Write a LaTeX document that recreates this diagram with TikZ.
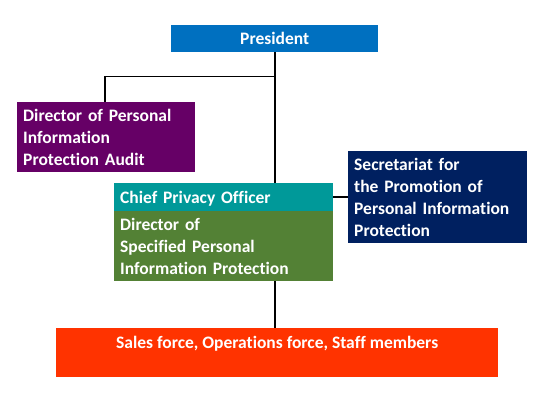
\documentclass[tikz,border=0pt]{standalone}
\usepackage{fontspec}
\setmainfont{Carlito}[Ligatures=NoCommon]
\definecolor{presblue}{HTML}{0070C0}
\definecolor{auditpurple}{HTML}{660066}
\definecolor{cpoteal}{HTML}{009999}
\definecolor{dirgreen}{HTML}{538135}
\definecolor{secnavy}{HTML}{002060}
\definecolor{salesred}{HTML}{FF3300}
\begin{document}
\begin{tikzpicture}[x=1pt,y=-1pt,
  orgbox/.style={anchor=north west, inner sep=0pt, text=white,
    font=\bfseries\fontsize{17.5}{22}\selectfont},
  leftbox/.style={orgbox, align=left},
  conn/.style={draw=black, line width=1.5pt}]
\useasboundingbox (0,0) rectangle (540,405);
\coordinate (trunkTop) at (275,52);
\coordinate (branch) at (275,76.5);
\coordinate (branchL) at (105,76.5);
\node[orgbox, fill=presblue, minimum width=207pt, minimum height=27pt, align=center, text height=13.5pt, text depth=2.5pt] (pres) at (171,25) {President};
\node[leftbox, fill=auditpurple, minimum width=176pt, minimum height=70pt, text width=166pt, inner xsep=6pt] (audit) at (17,102) {Director of Personal\\Information\\Protection Audit};
\node[leftbox, fill=secnavy, minimum width=177pt, minimum height=92pt, text width=167pt, inner xsep=6pt] (sec) at (348,151) {Secretariat for\\the Promotion of\\Personal Information\\Protection};
\node[orgbox, fill=salesred, minimum width=442pt, minimum height=49pt, align=center, text height=17pt, text depth=26pt] (sales) at (56,328) {Sales force, Operations force, Staff members};
\draw[conn] (pres.south -| trunkTop) -- (sales.north -| trunkTop);
\draw[conn] (branch) -- (branchL) -- (audit.north -| branchL);
\node[leftbox, fill=cpoteal, minimum width=217pt, minimum height=28pt, text width=207pt, inner xsep=6pt, text height=14pt, text depth=2pt] (cpo) at (114,183) {Chief Privacy Officer};
\node[leftbox, fill=dirgreen, minimum width=217pt, minimum height=70pt, text width=207pt, inner xsep=6pt] (dir) at (114,211) {Director of\\Specified Personal\\Information Protection};
\draw[conn] (cpo.east |- 0,197) -- (sec.west |- 0,197);
\end{tikzpicture}
\end{document}
